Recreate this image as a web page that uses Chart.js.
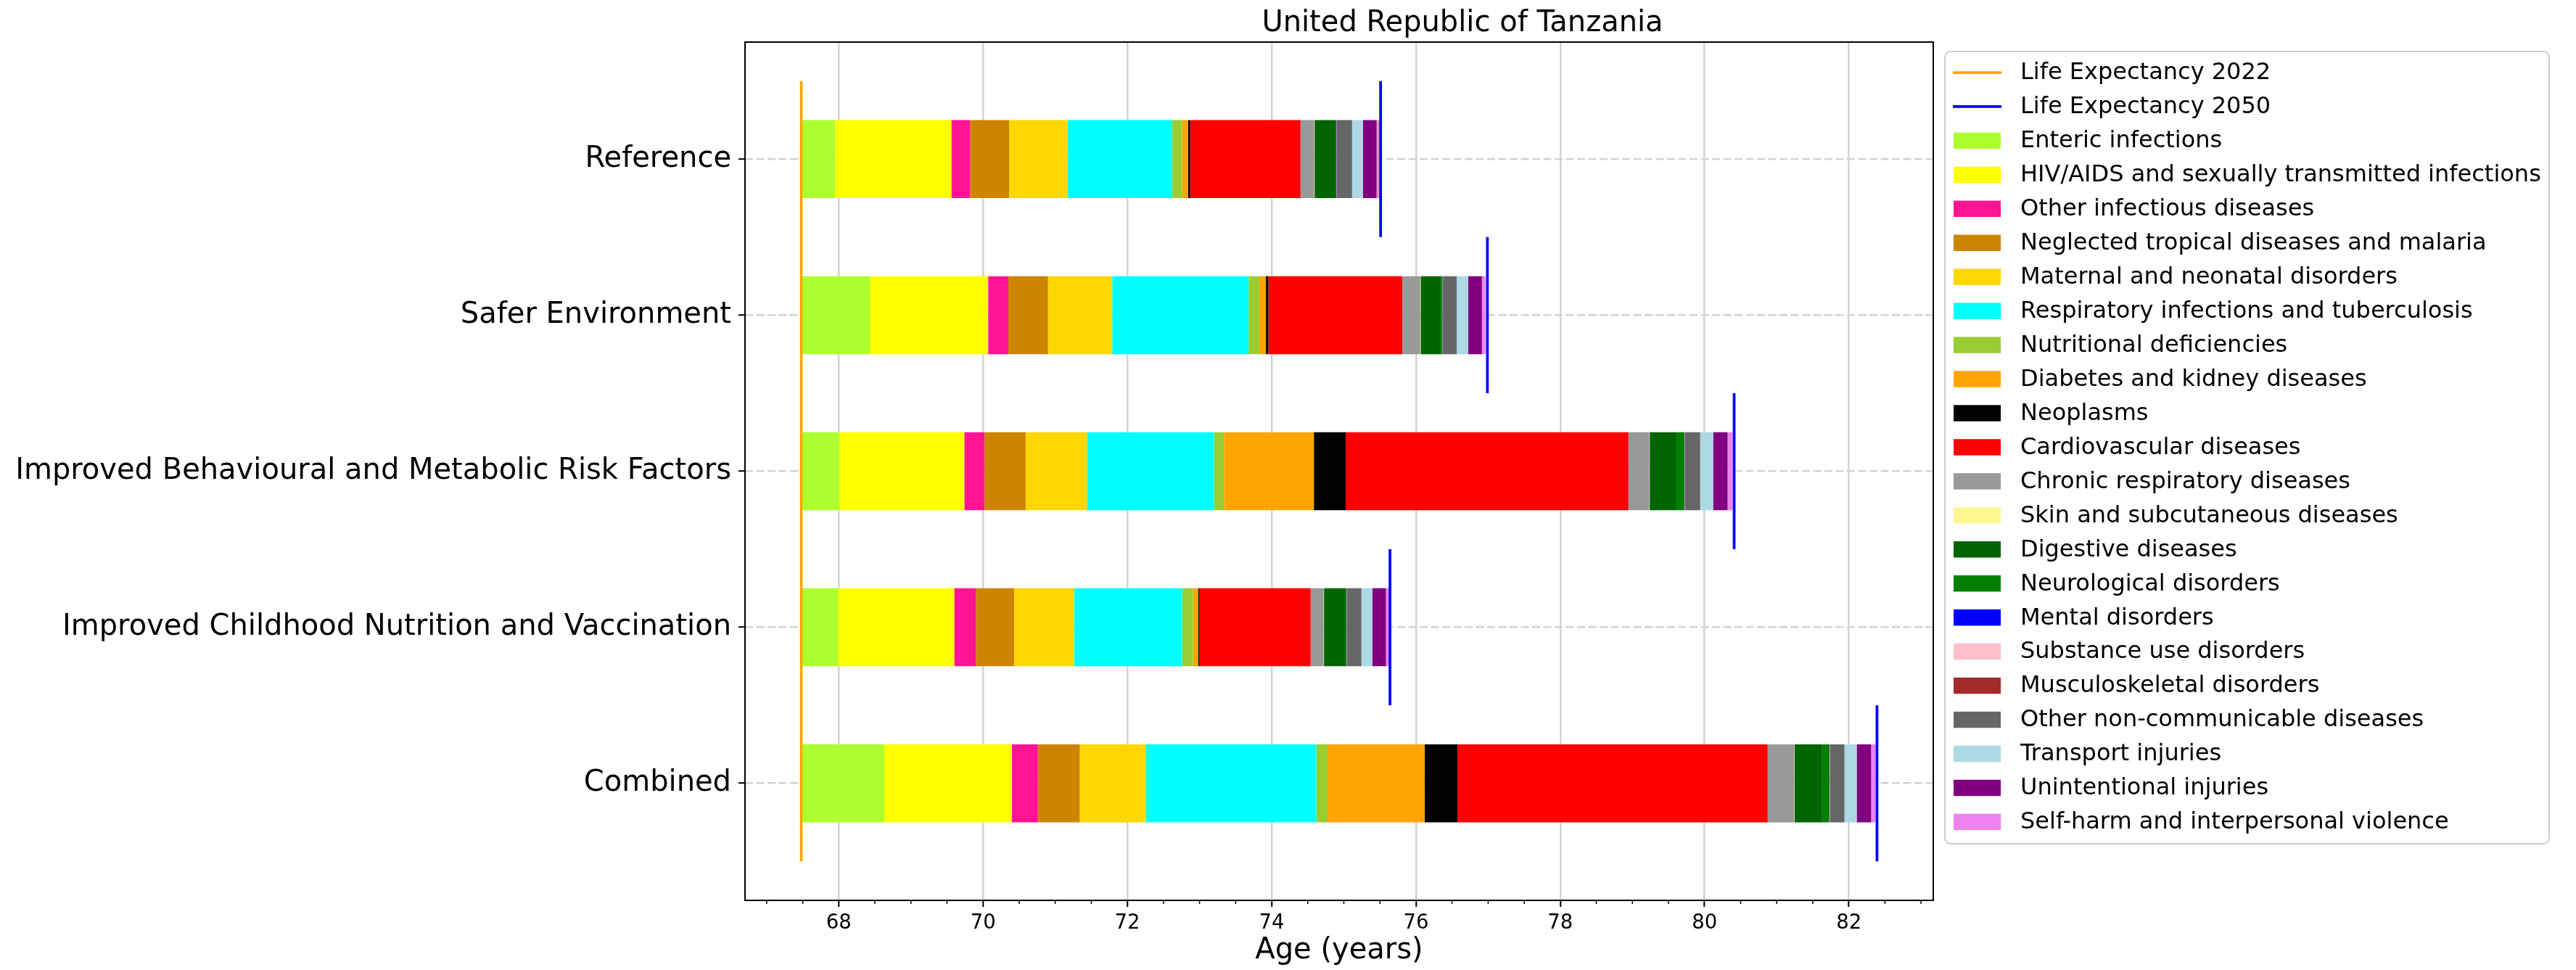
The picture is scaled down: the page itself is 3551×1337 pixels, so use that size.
<!DOCTYPE html>
<html>
<head>
<meta charset="utf-8">
<script src="https://cdn.jsdelivr.net/npm/chart.js@4/dist/chart.umd.min.js"></script>
<style>
  html, body { margin: 0; padding: 0; background: #fff; }
</style>
</head>
<body>
<canvas id="chart" width="3551" height="1337"></canvas>
<script>
// scenarios, top to bottom
const scenarios = [
    'Reference',
    'Safer Environment',
    'Improved Behavioural and Metabolic Risk Factors',
    'Improved Childhood Nutrition and Vaccination',
    'Combined'
];

const lifeExp2022 = 67.48;
const lifeExp2050 = [75.51, 76.99, 80.41, 75.64, 82.39];

const xMajorTicks = [68, 70, 72, 74, 76, 78, 80, 82];

const causes = [
    'Enteric infections',
    'HIV/AIDS and sexually transmitted infections',
    'Other infectious diseases',
    'Neglected tropical diseases and malaria',
    'Maternal and neonatal disorders',
    'Respiratory infections and tuberculosis',
    'Nutritional deficiencies',
    'Diabetes and kidney diseases',
    'Neoplasms',
    'Cardiovascular diseases',
    'Chronic respiratory diseases',
    'Skin and subcutaneous diseases',
    'Digestive diseases',
    'Neurological disorders',
    'Mental disorders',
    'Substance use disorders',
    'Musculoskeletal disorders',
    'Other non-communicable diseases',
    'Transport injuries',
    'Unintentional injuries',
    'Self-harm and interpersonal violence'
];

const causeColors = [
    '#adff2f', '#ffff00', '#ff1493', '#cd8500', '#ffd700', '#00ffff', '#9acd32',
    '#ffa500', '#000000', '#ff0000', '#999999', '#fff68f', '#006400', '#008000',
    '#0000ff', '#ffc0cb', '#a52a2a', '#666666', '#add8e6', '#800080', '#ee82ee'
];

// years gained per cause, one value per scenario
const enteric        = [0.47, 0.95, 0.53, 0.51, 1.15];
const hivAids        = [1.61, 1.64, 1.73, 1.61, 1.77];
const otherInfect    = [0.26, 0.28, 0.28, 0.30, 0.36];
const ntdMalaria     = [0.54, 0.55, 0.57, 0.53, 0.58];
const maternal       = [0.81, 0.89, 0.85, 0.83, 0.92];
const respiratory    = [1.45, 1.89, 1.76, 1.50, 2.36];
const nutritional    = [0.14, 0.15, 0.14, 0.15, 0.155];
const diabetes       = [0.08, 0.09, 1.245, 0.07, 1.345];
const neoplasms      = [0.03, 0.035, 0.44, 0.02, 0.455];
const cardio         = [1.53, 1.855, 3.92, 1.54, 4.30];
const chronicResp    = [0.19, 0.25, 0.29, 0.18, 0.37];
const skin           = [0.005, 0.005, 0.005, 0.005, 0.005];
const digestive      = [0.29, 0.28, 0.37, 0.30, 0.38];
const neurological   = [0.01, 0.02, 0.11, 0.01, 0.10];
const mental         = [0.003, 0.003, 0.003, 0.003, 0.003];
const substance      = [0.003, 0.003, 0.003, 0.003, 0.003];
const musculo        = [0.003, 0.003, 0.003, 0.003, 0.003];
const otherNcd       = [0.21, 0.19, 0.21, 0.20, 0.20];
const transport      = [0.15, 0.16, 0.18, 0.15, 0.17];
const unintentional  = [0.19, 0.19, 0.20, 0.19, 0.20];
const selfHarm       = [0.05, 0.05, 0.07, 0.05, 0.06];

const gains = [
    enteric, hivAids, otherInfect, ntdMalaria, maternal, respiratory, nutritional,
    diabetes, neoplasms, cardio, chronicResp, skin, digestive, neurological,
    mental, substance, musculo, otherNcd, transport, unintentional, selfHarm
];

// floating bars stacked from the 2022 life expectancy
const runningEnd = scenarios.map(() => lifeExp2022);
const datasets = causes.map((name, k) => {
    const data = scenarios.map((s, j) => {
        const start = runningEnd[j];
        const end = start + gains[k][j];
        runningEnd[j] = end;
        return { x: [start, end], y: j };
    });
    return {
        label: name,
        data: data,
        backgroundColor: causeColors[k],
        borderWidth: 0,
        grouped: false,
        barPercentage: 0.5,
        categoryPercentage: 1
    };
});

const FONT = 'DejaVu Sans';
Chart.defaults.font.family = FONT;
Chart.defaults.color = '#000';

const extrasPlugin = {
    id: 'extras',
    afterDatasetsDraw(chart) {
        const ctx = chart.ctx;
        const area = chart.chartArea;
        const xs = chart.scales.x;
        const ys = chart.scales.y;
        ctx.save();
        ctx.lineWidth = 3.75;

        // 2022 line across all scenarios
        ctx.strokeStyle = '#ffa500';
        ctx.beginPath();
        const ox = xs.getPixelForValue(lifeExp2022);
        ctx.moveTo(ox, ys.getPixelForValue(-0.5));
        ctx.lineTo(ox, ys.getPixelForValue(scenarios.length - 0.5));
        ctx.stroke();

        // 2050 line at the end of each bar
        ctx.strokeStyle = '#0000ff';
        lifeExp2050.forEach((v, j) => {
            const bx = xs.getPixelForValue(v);
            ctx.beginPath();
            ctx.moveTo(bx, ys.getPixelForValue(j - 0.5));
            ctx.lineTo(bx, ys.getPixelForValue(j + 0.5));
            ctx.stroke();
        });

        // axes frame
        ctx.strokeStyle = '#000';
        ctx.lineWidth = 2;
        ctx.strokeRect(area.left, area.top, area.right - area.left, area.bottom - area.top);

        // minor ticks
        ctx.lineWidth = 1.5;
        xs.ticks.forEach(t => {
            if (xMajorTicks.includes(t.value)) return;
            const tx = xs.getPixelForValue(t.value);
            ctx.beginPath();
            ctx.moveTo(tx, area.bottom);
            ctx.lineTo(tx, area.bottom + 5);
            ctx.stroke();
        });
        ctx.restore();
    },
    afterDraw(chart) {
        const ctx = chart.ctx;
        const area = chart.chartArea;
        ctx.save();

        // title
        ctx.fillStyle = '#000';
        ctx.font = '40px "' + FONT + '"';
        ctx.textAlign = 'center';
        ctx.textBaseline = 'alphabetic';
        ctx.fillText('United Republic of Tanzania', 2016, area.top - 15);

        // legend box
        const left = area.right + 16;
        const top = area.top + 13;
        const w = 833, h = 1092, r = 8;
        ctx.beginPath();
        ctx.moveTo(left + r, top);
        ctx.arcTo(left + w, top, left + w, top + h, r);
        ctx.arcTo(left + w, top + h, left, top + h, r);
        ctx.arcTo(left, top + h, left, top, r);
        ctx.arcTo(left, top, left + w, top, r);
        ctx.closePath();
        ctx.fillStyle = '#fff';
        ctx.fill();
        ctx.strokeStyle = '#cccccc';
        ctx.lineWidth = 2;
        ctx.stroke();

        const items = [
            { label: 'Life Expectancy 2022', color: '#ffa500', line: true },
            { label: 'Life Expectancy 2050', color: '#0000ff', line: true }
        ].concat(chart.data.datasets.map(d => ({ label: d.label, color: d.backgroundColor, line: false })));

        ctx.font = '32px "' + FONT + '"';
        ctx.textAlign = 'left';
        ctx.textBaseline = 'middle';
        items.forEach((it, i) => {
            const y = area.top + 42 + i * 46.95;
            if (it.line) {
                ctx.strokeStyle = it.color;
                ctx.lineWidth = 3.75;
                ctx.beginPath();
                ctx.moveTo(left + 11, y);
                ctx.lineTo(left + 78, y);
                ctx.stroke();
            } else {
                ctx.fillStyle = it.color;
                ctx.fillRect(left + 12, y - 11.2, 65, 22.4);
            }
            ctx.fillStyle = '#000';
            ctx.fillText(it.label, left + 104, y + 1);
        });
        ctx.restore();
    }
};

new Chart(document.getElementById('chart'), {
    type: 'bar',
    data: { datasets: datasets },
    plugins: [extrasPlugin],
    options: {
        indexAxis: 'y',
        responsive: false,
        animation: false,
        devicePixelRatio: 1,
        layout: { padding: { top: 58, right: 886, bottom: 0, left: 0 } },
        plugins: {
            legend: { display: false },
            tooltip: { enabled: false },
            title: { display: false }
        },
        scales: {
            x: {
                type: 'linear',
                position: 'bottom',
                min: 66.70,
                max: 83.17,
                afterFit: s => { s.height = 96; },
                ticks: {
                    stepSize: 0.5,
                    includeBounds: false,
                    autoSkip: false,
                    maxRotation: 0,
                    padding: 6,
                    font: { size: 27.5 },
                    color: '#000',
                    callback: v => xMajorTicks.includes(v) ? String(v) : ''
                },
                grid: {
                    color: c => (c.tick && xMajorTicks.includes(c.tick.value)) ? '#d3d3d3' : 'rgba(0,0,0,0)',
                    lineWidth: 2.5,
                    drawTicks: true,
                    tickLength: 9,
                    tickWidth: 2,
                    tickColor: c => (c.tick && xMajorTicks.includes(c.tick.value)) ? '#000' : 'rgba(0,0,0,0)'
                },
                border: { display: false },
                title: {
                    display: true,
                    text: 'Age (years)',
                    font: { size: 40 },
                    color: '#000',
                    padding: { top: 0, bottom: 2 }
                }
            },
            y: {
                type: 'linear',
                offset: false,
                min: -0.75,
                max: scenarios.length - 0.25,
                reverse: true,
                afterFit: s => { s.width = 1027; },
                afterBuildTicks: s => { s.ticks = scenarios.map((_, i) => ({ value: i })); },
                ticks: {
                    autoSkip: false,
                    padding: 10,
                    font: { size: 40 },
                    color: '#000',
                    callback: v => scenarios[v]
                },
                grid: {
                    offset: false,
                    color: '#d3d3d3',
                    lineWidth: 2.5,
                    drawTicks: true,
                    tickLength: 9,
                    tickWidth: 2,
                    tickColor: '#000',
                    tickBorderDash: []
                },
                border: { display: false, dash: [11, 4.5] }
            }
        }
    }
});
</script>
</body>
</html>
